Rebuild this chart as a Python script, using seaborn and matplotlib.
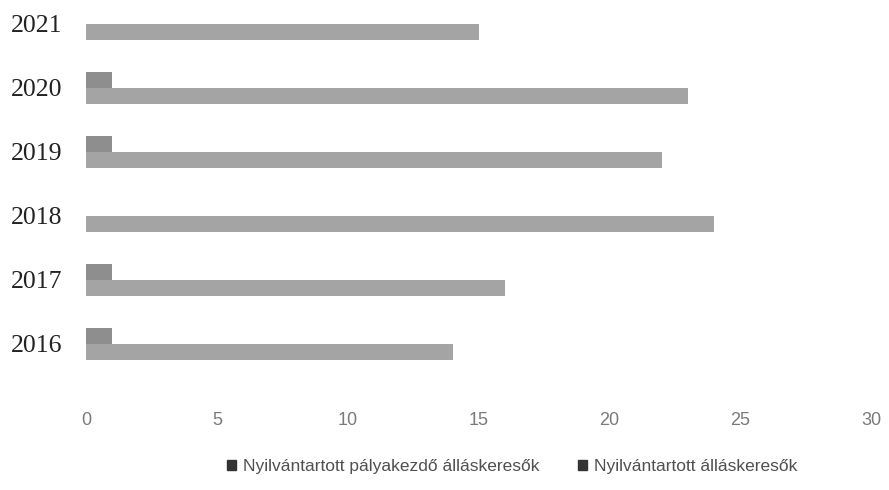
import pandas as pd
import seaborn as sns
from matplotlib import pyplot as plt
from matplotlib.patches import Patch

years = ["2021", "2020", "2019", "2018", "2017", "2016"]
palyakezdo = [0, 1, 1, 0, 1, 1]
allaskeresok = [15, 23, 22, 24, 16, 14]
series = ["Nyilvántartott pályakezdő álláskeresők", "Nyilvántartott álláskeresők"]
colors = ["#8e8e8e", "#a4a4a4"]
xticks = [0, 5, 10, 15, 20, 25, 30]


def main():
    df = pd.DataFrame({"Év": years * 2,
                       "Fő": palyakezdo + allaskeresok,
                       "Sorozat": [series[0]] * len(years) + [series[1]] * len(years)})

    sns.set_style("white")
    plt.rcParams["font.family"] = ["Liberation Sans", "DejaVu Sans"]

    fig = plt.figure(figsize=(8.89, 4.90), dpi=100)
    ax = fig.add_axes([0.097, 0.194, 0.883, 0.806])
    sns.barplot(df, x="Fő", y="Év", hue="Sorozat", order=years,
                hue_order=series, palette=dict(zip(series, colors)), width=0.5,
                saturation=1, orient="h", ax=ax, legend=False, linewidth=0)

    ax.set_xlim(0, 30)
    ax.set_ylim(5.8, -0.375)
    ax.set_xticks(xticks)
    ax.set_xlabel("")
    ax.set_ylabel("")
    for s in ax.spines.values():
        s.set_visible(False)
    ax.tick_params(axis="both", length=0)
    ax.tick_params(axis="x", pad=12, labelcolor="#7a7a7a", labelsize=13)
    ax.tick_params(axis="y", pad=17)
    for t in ax.get_yticklabels():
        t.set_fontfamily(["Liberation Serif", "DejaVu Serif"])
        t.set_fontsize(18.5)
        t.set_color("#222222")

    handles = [Patch(color="#333333") for _ in series]
    fig.legend(handles, series, loc="lower center", bbox_to_anchor=(0.576, 0.0), ncol=2,
               frameon=False, handlelength=0.55, handleheight=0.55, handletextpad=0.4,
               columnspacing=2.2, labelcolor="#505050",
               prop={"family": ["Liberation Sans", "DejaVu Sans"], "size": 12.5})

    fig.savefig("out.png", dpi=100)


if __name__ == "__main__":
    main()
